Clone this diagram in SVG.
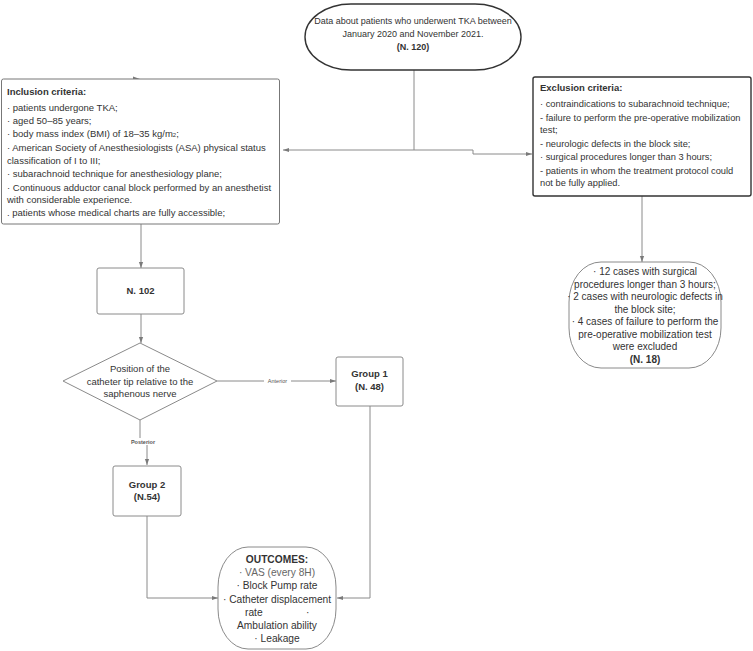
<svg xmlns="http://www.w3.org/2000/svg" width="753" height="651" viewBox="0 0 753 651">
<defs>
<marker id="arr" viewBox="0 0 10 10" refX="10" refY="5" markerWidth="6" markerHeight="6" orient="auto" markerUnits="userSpaceOnUse">
<path d="M0,1.5 L10,5 L0,8.5 z" fill="#7a7a7a"/>
</marker>
<style>
.t{font-family:"Liberation Sans",Arial,sans-serif;font-size:9.5px;fill:#333}
.s9{font-size:9px}
.s93{font-size:9.3px}
.s10{font-size:10px}
.s11{font-size:10.2px}
.gray{fill:#666}
.c{text-anchor:middle}
.b{font-weight:bold}
.box{fill:#fff;stroke:#8a8a8a;stroke-width:1}
.dark{fill:#fff;stroke:#333;stroke-width:1.4}
.con{fill:none;stroke:#8a8a8a;stroke-width:1}
.lbl{font-family:"Liberation Sans",Arial,sans-serif;font-size:5.5px;fill:#555;text-anchor:middle}
</style>
</defs>
<rect width="753" height="651" fill="#fff"/>
<g id="connectors">
<path class="con" d="M414,70 V150 H283" marker-end="url(#arr)"/>
<path class="con" d="M414,150 H473 V154 H532" marker-end="url(#arr)"/>
<path class="con" d="M642,196 V262" marker-end="url(#arr)"/>
<path class="con" d="M141,224 V268" marker-end="url(#arr)"/>
<path class="con" d="M141,314 V343" marker-end="url(#arr)"/>
<path class="con" d="M217,381 H336" marker-end="url(#arr)"/>
<rect x="264" y="378" width="27" height="6" fill="#fff"/>
<text class="lbl" x="277.5" y="383">Anterior</text>
<path class="con" d="M140,420 V440 H147 V465" marker-end="url(#arr)"/>
<rect x="128" y="438" width="30" height="7" fill="#fff"/>
<text class="lbl b" x="143" y="444">Posterior</text>
<path class="con" d="M370,406 V598 H337" marker-end="url(#arr)"/>
<path class="con" d="M147,516 V598 H218" marker-end="url(#arr)"/>
<path d="M133,76.5 L140,79 L133,81.5 z" fill="#7a7a7a"/>
</g>
<g id="start">
<rect class="dark" x="305" y="4" width="216" height="66" rx="46" ry="33"/>
<text class="t s9 c" x="413" y="24">Data about patients who underwent TKA between</text>
<text class="t s9 c" x="413" y="37">January 2020 and November 2021.</text>
<text class="t s9 c b" x="413" y="50">(N. 120)</text>
</g>
<g id="inclusion">
<rect class="box" x="1.5" y="79" width="278" height="145" rx="2" style="stroke:#777"/>
<text class="t b" x="7" y="95">Inclusion criteria:</text>
<text class="t" x="7" y="111">· patients undergone TKA;</text>
<text class="t" x="7" y="124">· aged 50–85 years;</text>
<text class="t" x="7" y="137">· body mass index (BMI) of 18–35 kg/m<tspan style="font-size:6px">2</tspan>;</text>
<text class="t" x="7" y="151">· American Society of Anesthesiologists (ASA) physical status</text>
<text class="t" x="7" y="164">classification of I to III;</text>
<text class="t" x="7" y="177">· subarachnoid technique for anesthesiology plane;</text>
<text class="t" x="7" y="191">· Continuous adductor canal block performed by an anesthetist</text>
<text class="t" x="7" y="203">with considerable experience.</text>
<text class="t" x="7" y="216">. patients whose medical charts are fully accessible;</text>
</g>
<g id="exclusion">
<rect class="dark" x="533" y="77" width="218" height="119" rx="2"/>
<text class="t b" x="540" y="91">Exclusion criteria:</text>
<text class="t s93" x="540" y="107">· contraindications to subarachnoid technique;</text>
<text class="t s93" x="540" y="121">- failure to perform the pre-operative mobilization</text>
<text class="t s93" x="540" y="133">test;</text>
<text class="t s93" x="540" y="147">- neurologic defects in the block site;</text>
<text class="t s93" x="540" y="160"> · surgical procedures longer than 3 hours;</text>
<text class="t s93" x="540" y="174">- patients in whom the treatment protocol could</text>
<text class="t s93" x="540" y="186">not be fully applied.</text>
</g>
<g id="excluded">
<rect class="box" x="569" y="262" width="152" height="106" rx="32" ry="40"/>
<text class="t s10 c" x="645" y="275">· 12 cases with surgical</text>
<text class="t s10 c" x="645" y="288">procedures longer than 3 hours;</text>
<text class="t s10 c" x="645" y="300">· 2 cases with neurologic defects in</text>
<text class="t s10 c" x="645" y="313">the block site;</text>
<text class="t s10 c" x="645" y="325">· 4 cases of failure to perform the</text>
<text class="t s10 c" x="645" y="338">pre-operative mobilization test</text>
<text class="t s10 c" x="645" y="350">were excluded</text>
<text class="t s10 c b" x="645" y="363">(N. 18)</text>
</g>
<g id="n102">
<rect class="box" x="97" y="268" width="87" height="46" rx="2"/>
<text class="t c b" x="140.5" y="294">N. 102</text>
</g>
<g id="decision">
<polygon class="box" points="140,343 217,381 140,420 63,381"/>
<text class="t c" x="140" y="372">Position of the</text>
<text class="t c" x="140" y="385">catheter tip relative to the</text>
<text class="t c" x="140" y="397">saphenous nerve</text>
</g>
<g id="group1">
<rect class="box" x="336" y="357" width="67" height="49" rx="2"/>
<text class="t c b" x="369.5" y="377">Group 1</text>
<text class="t c b" x="369.5" y="390">(N. 48)</text>
</g>
<g id="group2">
<rect class="box" x="113" y="466" width="68" height="50" rx="2"/>
<text class="t c b" x="147" y="488">Group 2</text>
<text class="t c b" x="147" y="500">(N.54)</text>
</g>
<g id="outcomes">
<rect class="box" x="218" y="547" width="118" height="102" rx="30" ry="40"/>
<text class="t s11 c b" x="277" y="563">OUTCOMES:</text>
<text class="t s11 c gray" x="277" y="576">· VAS (every 8H)</text>
<text class="t s11 c" x="277" y="589">· Block Pump rate</text>
<text class="t s11 c" x="277" y="603">· Catheter displacement</text>
<text class="t s11" x="245" y="616">rate</text>
<text class="t s11" x="306" y="616">·</text>
<text class="t s11 c" x="277" y="629">Ambulation ability</text>
<text class="t s11 c" x="277" y="642">· Leakage</text>
</g>
</svg>
